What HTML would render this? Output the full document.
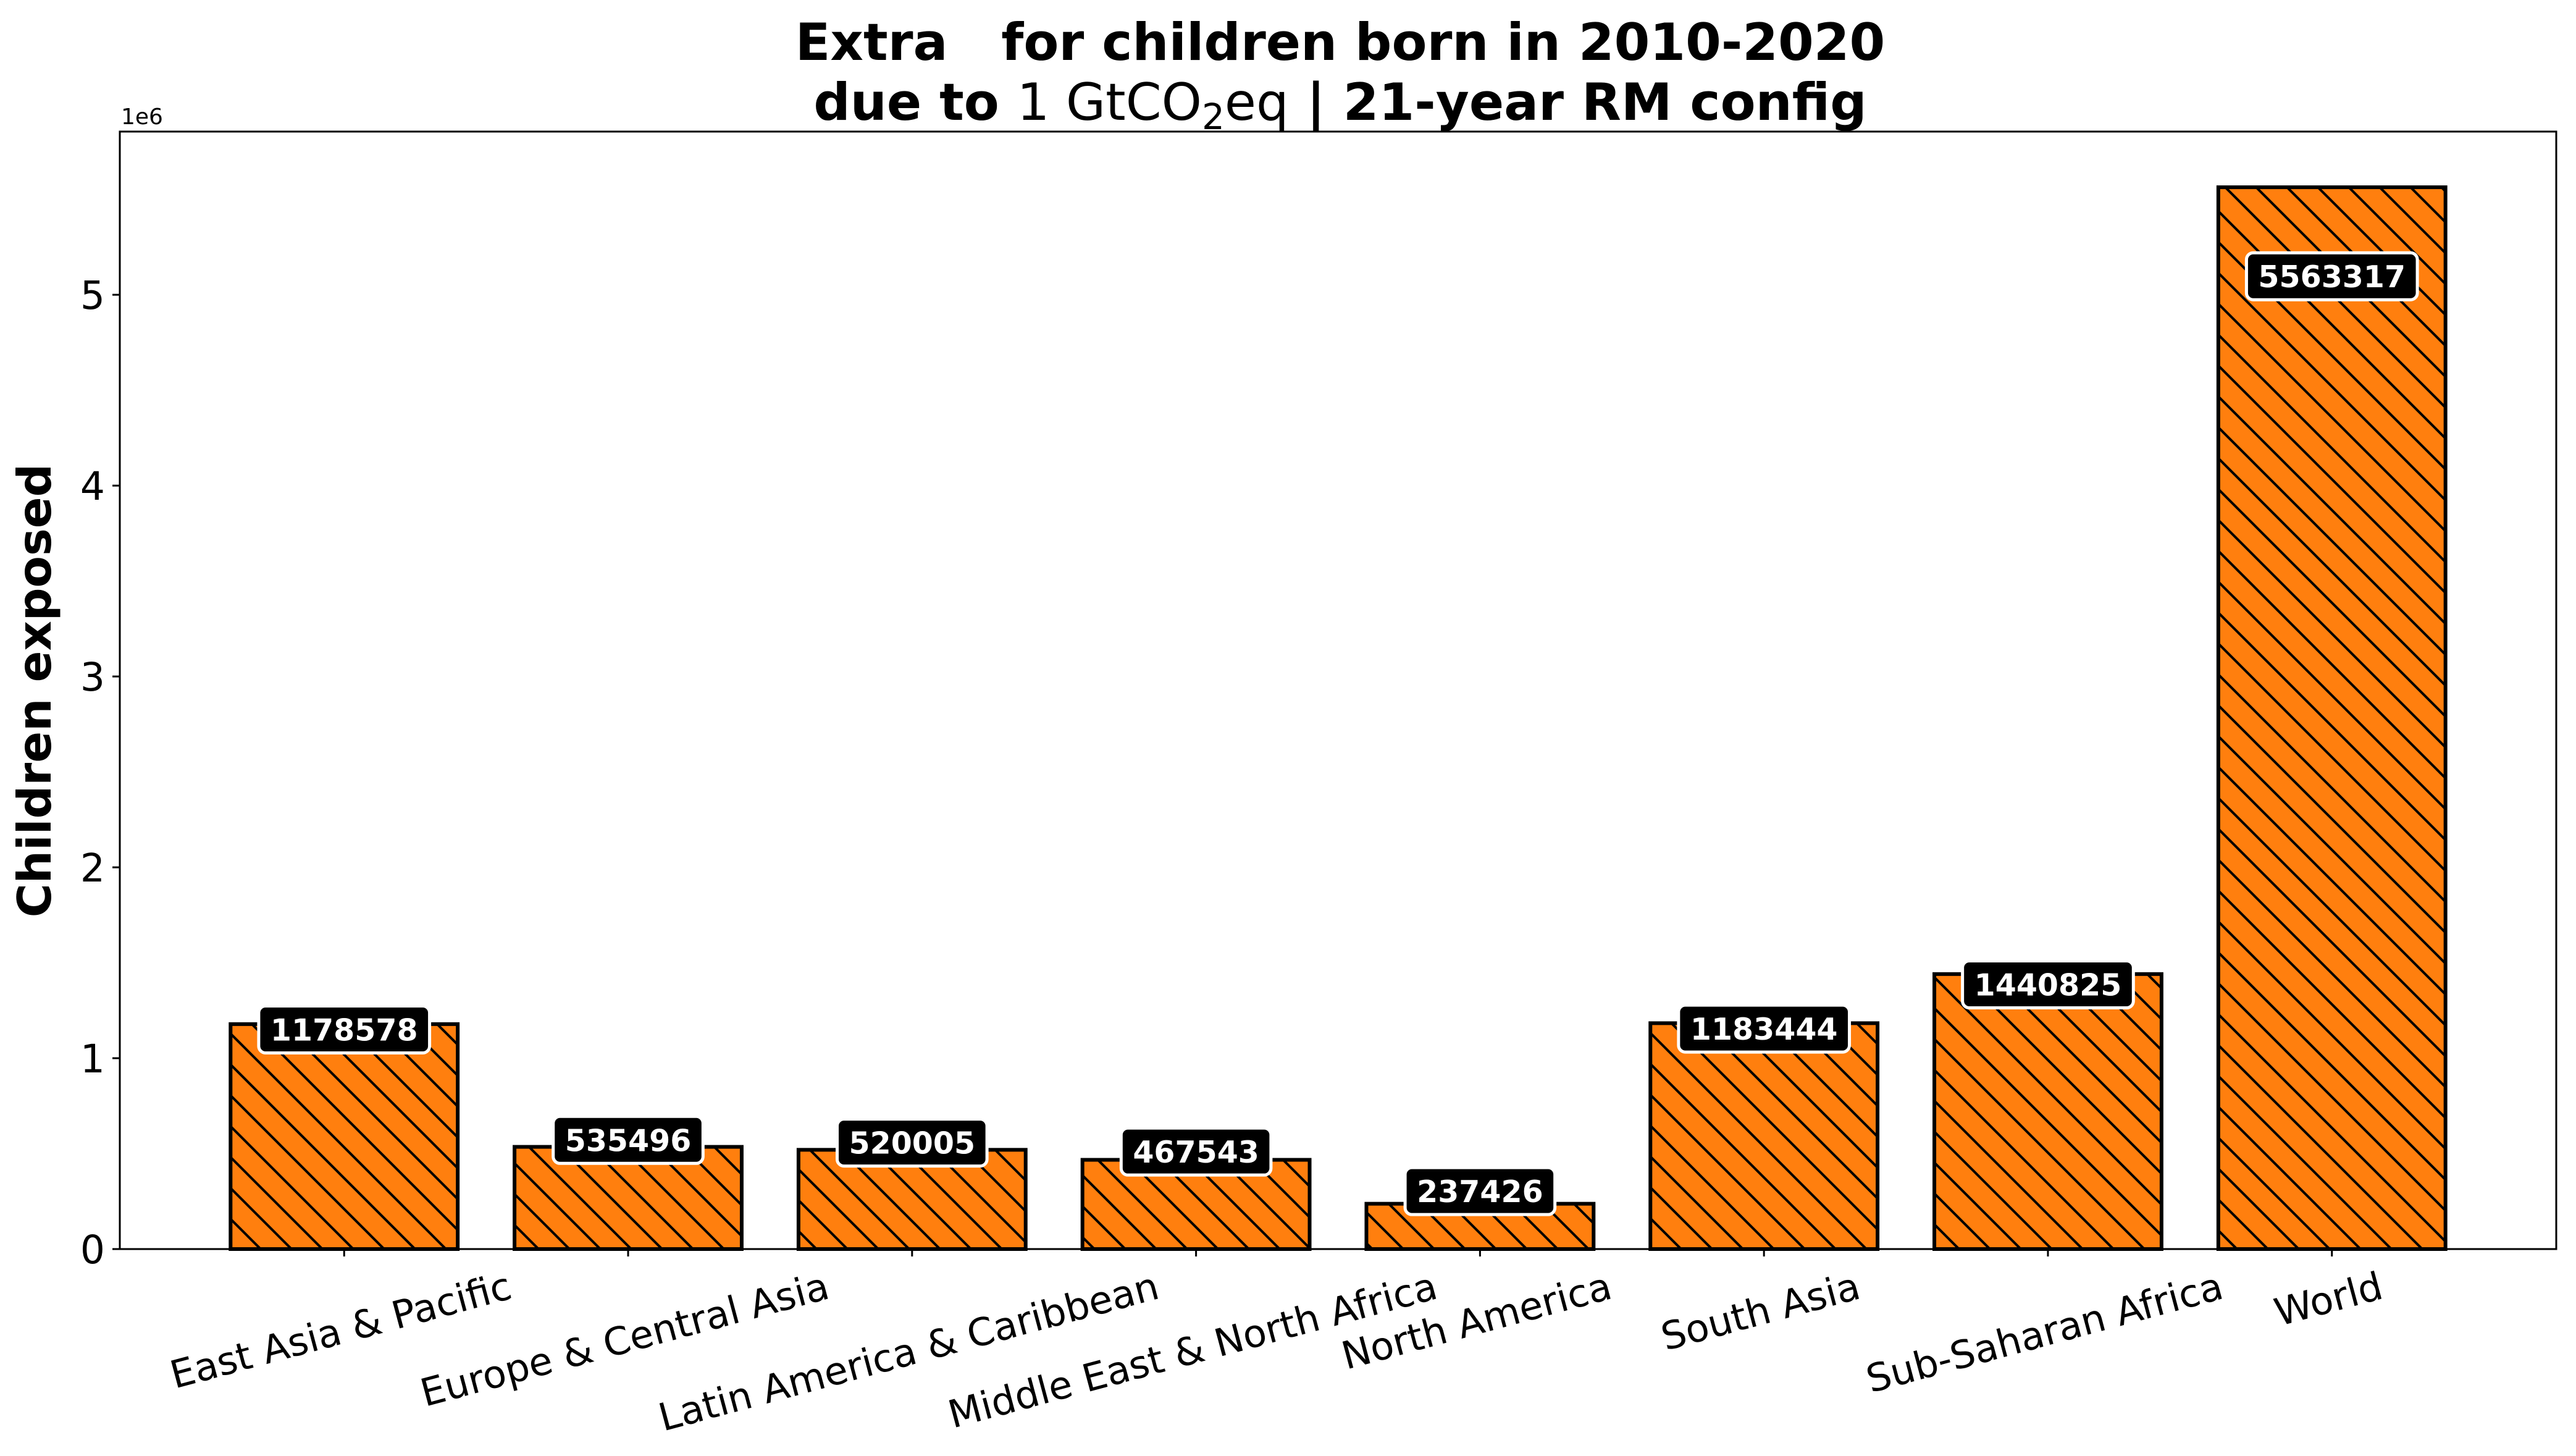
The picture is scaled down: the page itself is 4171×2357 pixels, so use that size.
<!DOCTYPE html>
<html><head><meta charset="utf-8">
<style>
html,body{margin:0;padding:0;background:#fff;}
svg{display:block;font-family:"DejaVu Sans","Liberation Sans",sans-serif;}
</style></head>
<body>
<svg id="chart" width="4171" height="2357" viewBox="0 0 4171 2357" xmlns="http://www.w3.org/2000/svg">
<defs>
<pattern id="hatch" patternUnits="userSpaceOnUse" width="50" height="50">
<rect width="50" height="50" fill="#ff7f0e"/>
<path d="M-25,-25 L75,75 M-25,25 L25,75 M25,-25 L75,25" stroke="#000" stroke-width="4"/>
</pattern>
</defs>
<g>
<text x="2170" y="97" text-anchor="middle" font-size="83" font-weight="bold" xml:space="preserve" style="white-space:pre">Extra   for children born in 2010-2020</text>
<text x="2170" y="194" text-anchor="middle" font-size="83" xml:space="preserve" style="white-space:pre"><tspan font-weight="bold">due to </tspan><tspan>1 GtCO</tspan><tspan font-size="58" dy="15">2</tspan><tspan dy="-15">eq</tspan><tspan font-weight="bold"> | 21-year RM config</tspan></text>
</g>
<text x="196" y="201" font-size="36">1e6</text>
<text transform="translate(82,1118) rotate(-90)" text-anchor="middle" font-size="75" font-weight="bold">Children exposed</text>
<g id="bars"></g>
<g id="yticks"></g>
<g id="xticks"></g>
<g id="labels"></g>
<rect x="194" y="213" width="3945" height="1809" fill="none" stroke="#000" stroke-width="3"/>
</svg>
<script>
const categories = ["East Asia & Pacific","Europe & Central Asia","Latin America & Caribbean","Middle East & North Africa","North America","South Asia","Sub-Saharan Africa","World"];
const values = [1178578,535496,520005,467543,237426,1183444,1440825,5563317];
const yTicks = [0,1,2,3,4,5];
const yTickLabels = ["0","1","2","3","4","5"];

const NS="http://www.w3.org/2000/svg";
const L=194,R=4139,T=213,B=2022;
const xmin=-0.79,xmax=7.79,ymin=0,ymax=5.855e6;
function xs(i){return L+(i-xmin)/(xmax-xmin)*(R-L);}
function ys(v){return B-(v-ymin)/(ymax-ymin)*(B-T);}
function mk(tag,attrs,parent){const e=document.createElementNS(NS,tag);for(const k in attrs)e.setAttribute(k,attrs[k]);parent.appendChild(e);return e;}
const gb=document.getElementById('bars'),gy=document.getElementById('yticks'),gx=document.getElementById('xticks'),gl=document.getElementById('labels');
const bw=0.8*(R-L)/(xmax-xmin);
values.forEach((v,i)=>{
  const cx=xs(i),top=ys(v);
  const r=mk('rect',{x:cx-bw/2,y:top,width:bw,height:B-top,fill:'url(#hatch)',stroke:'#000','stroke-width':6},gb);
  
  
});
yTicks.forEach((t,k)=>{
  const y=ys(t*1e6);
  const ln=mk('line',{x1:L-12,x2:L,y1:y,y2:y,stroke:'#000','stroke-width':3},gy);
  
  
  const tx=mk('text',{x:L-24,y:y+23,'text-anchor':'end','font-size':63},gy);
  tx.textContent=yTickLabels[k];
  
  
});
categories.forEach((c,i)=>{
  const x=xs(i);
  const ln=mk('line',{x1:x,x2:x,y1:B,y2:B+12,stroke:'#000','stroke-width':3},gx);
  
  
  const tx=mk('text',{'text-anchor':'middle','font-size':62},gx);
  tx.textContent=c;
  
  
  const w=tx.getComputedTextLength();
  const a=15*Math.PI/180;
  const h=w*Math.sin(a)+62*Math.cos(a);
  const cy=B+28+h/2;
  tx.setAttribute('transform','translate('+x+','+(cy+21)+') rotate(-15)');
});
values.forEach((v,i)=>{
  const cx=xs(i);
  const cy=ys(v*0.9+0.09e6);
  const g=mk('g',{},gl);
  
  
  const box=mk('rect',{rx:11,ry:11,fill:'#000',stroke:'#fff','stroke-width':5},g);
  const tx=mk('text',{x:cx,y:cy+18,'text-anchor':'middle','font-size':49,'font-weight':'bold',fill:'#fff'},g);
  tx.textContent=String(v);
  const w=tx.getComputedTextLength();
  box.setAttribute('x',cx-w/2-19);box.setAttribute('width',w+38);
  box.setAttribute('y',cy-38);box.setAttribute('height',76);
});
</script>
</body></html>
